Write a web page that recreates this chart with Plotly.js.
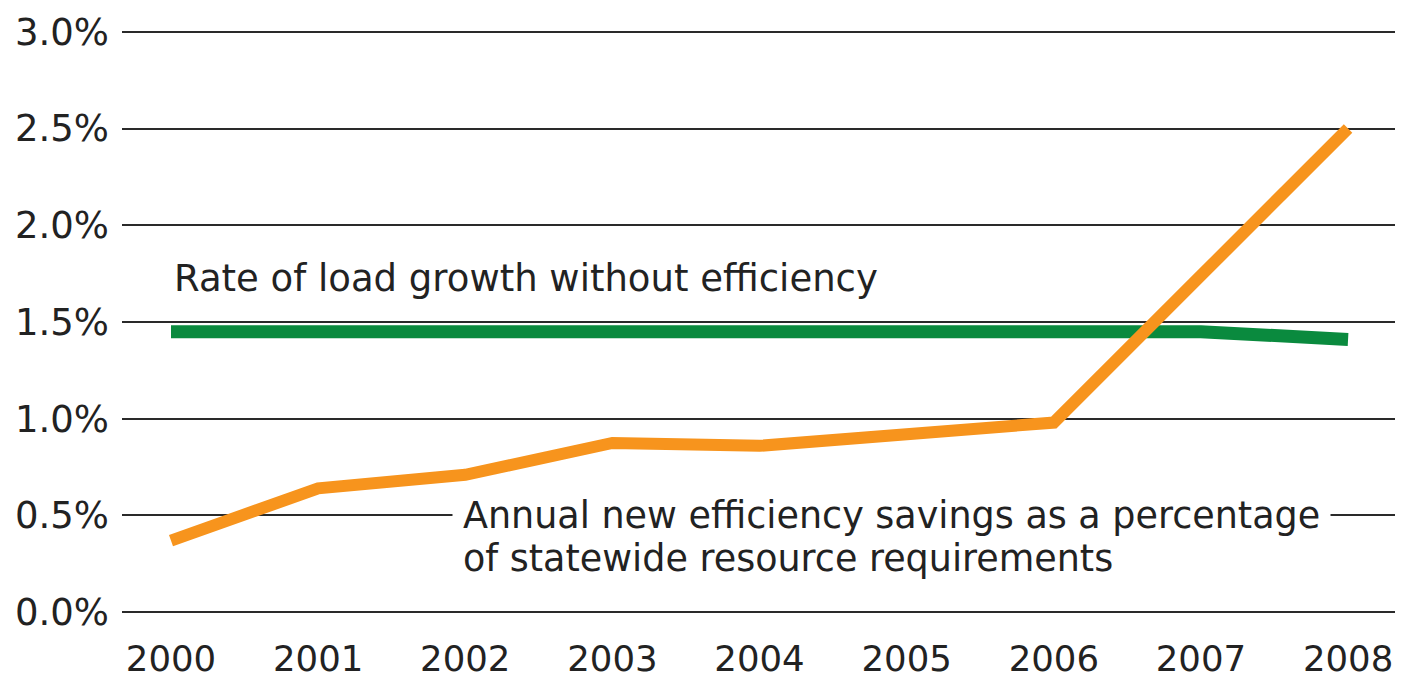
<!DOCTYPE html>
<html>
<head>
<meta charset="utf-8">
<script src="https://cdn.plot.ly/plotly-3.0.1.min.js"></script>
<style>
  html, body { margin: 0; padding: 0; background: #ffffff; }
  #chart { width: 1402px; height: 678px; }
</style>
</head>
<body>
<div id="chart"></div>
<script>
// Data
var years = [2000, 2001, 2002, 2003, 2004, 2005, 2006, 2007, 2008];
var loadGrowth = [1.45, 1.45, 1.45, 1.45, 1.45, 1.45, 1.45, 1.45, 1.41];
var efficiencySavings = [0.37, 0.64, 0.71, 0.875, 0.86, 0.915, 0.98, 1.74, 2.50];
var yTicks = [0, 0.5, 1.0, 1.5, 2.0, 2.5, 3.0];
var loadLabel = 'Rate of load growth without efficiency';
var savingsLabel1 = 'Annual new efficiency savings as a percentage';
var savingsLabel2 = 'of statewide resource requirements';

var FONT = 'DejaVu Sans, Verdana, sans-serif';
var TEXT = '#222222';

var traces = [
  {
    x: years, y: loadGrowth, type: 'scatter', mode: 'lines',
    line: { color: '#0a8a3e', width: 13 },
    hoverinfo: 'skip', showlegend: false
  },
  {
    x: years, y: efficiencySavings, type: 'scatter', mode: 'lines',
    line: { color: '#f7941d', width: 12 },
    hoverinfo: 'skip', showlegend: false
  }
];

var layout = {
  width: 1402, height: 678,
  margin: { l: 122, r: 7, t: 26, b: 60 },
  paper_bgcolor: '#ffffff', plot_bgcolor: '#ffffff',
  showlegend: false,
  font: { family: FONT, color: TEXT, size: 37 },
  xaxis: {
    range: [1999.667, 2008.319],
    tickvals: years,
    ticktext: years.map(String),
    showgrid: false, zeroline: false, showline: false,
    ticks: '', ticklabelstandoff: 16,
    tickfont: { family: FONT, size: 35.5, color: TEXT },
    fixedrange: true
  },
  yaxis: {
    range: [-0.03, 3.03],
    tickvals: yTicks,
    ticktext: yTicks.map(function (v) { return v.toFixed(1) + '%'; }),
    showgrid: true, gridcolor: '#2a2a2a', gridwidth: 2,
    zeroline: false, showline: false,
    ticks: '', ticklabelstandoff: 12,
    tickfont: { family: FONT, size: 37, color: TEXT },
    fixedrange: true
  },
  annotations: [
    {
      xref: 'paper', yref: 'y', x: 0.04, y: 1.725,
      xanchor: 'left', yanchor: 'middle',
      text: loadLabel, showarrow: false, align: 'left',
      font: { family: FONT, size: 37, color: TEXT }, borderpad: 0
    },
    {
      xref: 'paper', yref: 'y', x: 0.2592, y: 0.5,
      xanchor: 'left', yanchor: 'middle',
      text: savingsLabel1, showarrow: false, align: 'left',
      bgcolor: '#ffffff', borderpad: 10,
      font: { family: FONT, size: 36.5, color: TEXT }
    },
    {
      xref: 'paper', yref: 'y', x: 0.2671, y: 0.275,
      xanchor: 'left', yanchor: 'middle',
      text: savingsLabel2, showarrow: false, align: 'left',
      borderpad: 0,
      font: { family: FONT, size: 36.5, color: TEXT }
    }
  ]
};

Plotly.newPlot('chart', traces, layout, { displayModeBar: false, staticPlot: true });
</script>
</body>
</html>
